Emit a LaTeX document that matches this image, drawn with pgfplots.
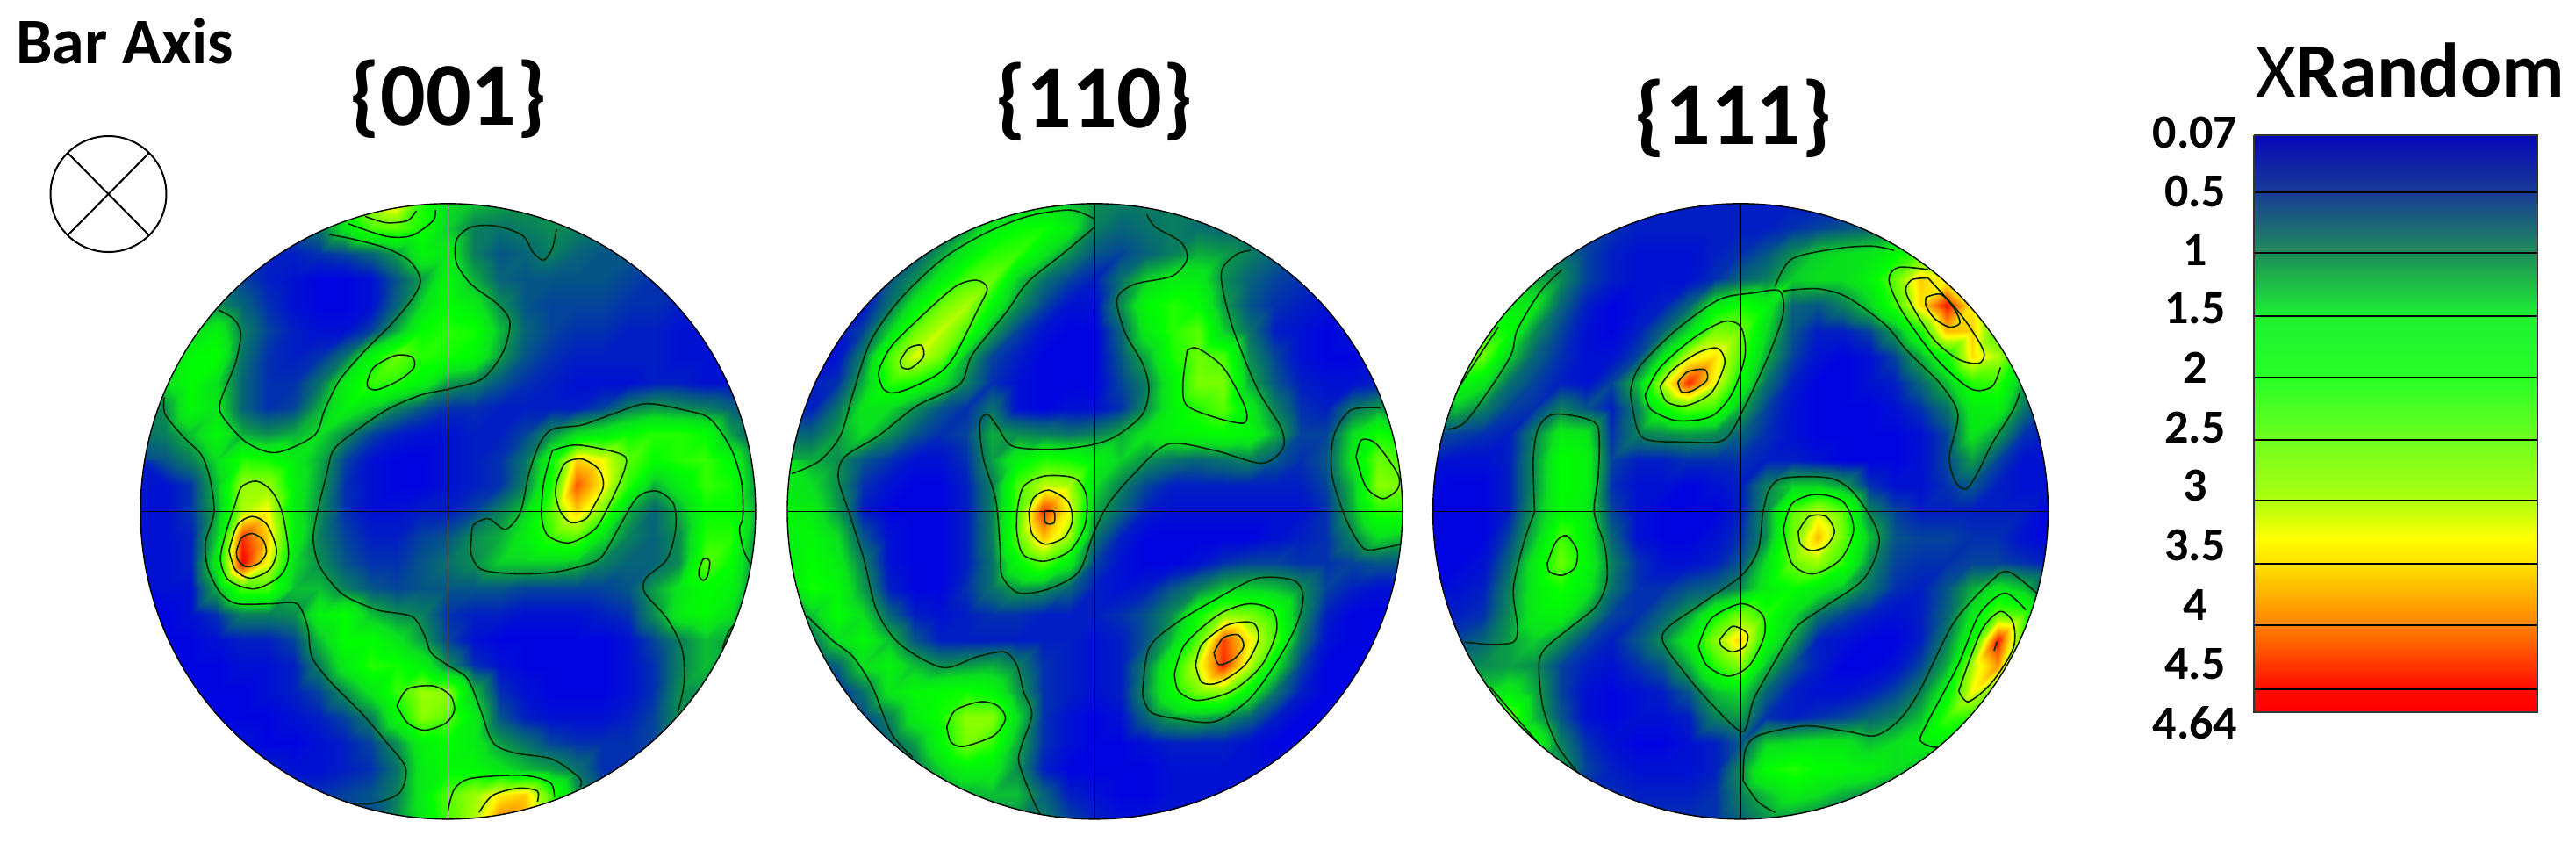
\documentclass[border=0pt]{standalone}
\usepackage{pgfplots}
\pgfplotsset{compat=1.18}
\usepackage{fontspec}
\setmainfont{Carlito}
\pgfplotsset{
 colormap={pf}{rgb255(7pt)=(0,0,230); rgb255(30pt)=(0,30,195); rgb255(60pt)=(5,85,135); rgb255(100pt)=(10,140,80); rgb255(150pt)=(10,225,30); rgb255(200pt)=(0,255,0); rgb255(250pt)=(90,255,0); rgb255(300pt)=(170,255,0); rgb255(330pt)=(255,255,0); rgb255(350pt)=(255,225,0); rgb255(400pt)=(255,130,0); rgb255(450pt)=(255,20,0); rgb255(464pt)=(255,0,0)},
 colormap={pb}{rgb255(7pt)=(8,8,185); rgb255(50pt)=(25,60,150); rgb255(100pt)=(30,140,90); rgb255(150pt)=(30,240,50); rgb255(200pt)=(40,255,40); rgb255(250pt)=(110,255,30); rgb255(300pt)=(175,255,15); rgb255(330pt)=(255,255,0); rgb255(350pt)=(255,225,0); rgb255(400pt)=(255,130,0); rgb255(450pt)=(255,10,0); rgb255(464pt)=(255,0,0)},
 pf/.style={at={(#1,-105pt)},anchor=north west,scale only axis,width=380pt,height=375pt,xmin=0,xmax=1568,ymin=0,ymax=1547,y dir=reverse,hide axis,colormap name=pf,point meta min=0.07,point meta max=4.64},
 ct/.style={no marks,smooth,line width=0.8pt,color=black!85!green},
 ax/.style={no marks,line width=0.7pt,color=black},
 table/gt/.style={row sep=\\,header=false,meta index=0,x expr={#1+(mod(\coordindex,25)-12)*60.5},y expr={768+(floor(\coordindex/25)-12)*60.5}},
 fld/.style={surf,shader=interp,mesh/cols=25,point meta=explicit}
}
\begin{document}
\begin{tikzpicture}
\path[use as bounding box] (0,0) rectangle (1467.5pt,-479.5pt);
% {001}
\begin{axis}[pf=65pt]
\addplot[fld] table[gt=785]{
.5\\.5\\.5\\.5\\.5\\.5\\.6\\.9\\1.5\\3.0\\3.5\\2.2\\1.5\\1.3\\1.2\\1.1\\1.1\\1.0\\.9\\.8\\.7\\.6\\.5\\.5\\.5\\
.4\\.4\\.4\\.4\\.4\\.4\\.5\\.8\\1.6\\2.4\\2.5\\2.1\\1.4\\.9\\.8\\.9\\1.0\\.9\\.8\\.7\\.6\\.5\\.4\\.4\\.4\\
.3\\.3\\.3\\.3\\.3\\.3\\.3\\.4\\.5\\.7\\1.1\\1.8\\1.7\\.9\\.6\\.7\\.9\\.7\\.6\\.6\\.5\\.4\\.4\\.3\\.3\\
.4\\.4\\.4\\.5\\.5\\.3\\.2\\.1\\.1\\.2\\.6\\1.1\\1.9\\1.2\\.7\\.6\\.6\\.6\\.6\\.5\\.4\\.4\\.3\\.3\\.3\\
1.0\\1.0\\1.0\\1.0\\.7\\.4\\.2\\.1\\.1\\.2\\.7\\1.5\\2.0\\1.7\\1.0\\.6\\.5\\.5\\.5\\.4\\.4\\.3\\.3\\.3\\.3\\
1.4\\1.4\\1.4\\1.8\\.9\\.5\\.3\\.2\\.2\\.5\\1.2\\2.0\\2.2\\2.1\\1.3\\.7\\.5\\.4\\.4\\.3\\.3\\.2\\.2\\.2\\.2\\
1.5\\1.5\\1.9\\2.0\\.8\\.4\\.3\\.4\\.8\\1.9\\2.6\\2.2\\2.1\\1.9\\1.1\\.6\\.4\\.3\\.3\\.3\\.3\\.2\\.2\\.2\\.2\\
1.2\\1.5\\2.0\\1.5\\.7\\.4\\.4\\.8\\1.7\\2.3\\2.2\\1.8\\1.1\\.9\\.6\\.4\\.3\\.2\\.2\\.2\\.3\\.3\\.2\\.2\\.2\\
.9\\1.0\\1.9\\1.6\\.7\\.4\\.5\\1.2\\1.8\\1.4\\.9\\.6\\.4\\.4\\.3\\.3\\.3\\.3\\.5\\.9\\1.1\\1.0\\.9\\.7\\.5\\
.8\\.9\\1.3\\1.9\\1.2\\1.0\\1.2\\1.5\\1.0\\.5\\.3\\.2\\.2\\.3\\.3\\.5\\1.0\\1.5\\1.7\\2.0\\2.2\\2.2\\2.0\\1.1\\.5\\
.5\\.6\\.9\\1.5\\2.2\\2.1\\1.7\\1.2\\.5\\.2\\.1\\.1\\.2\\.3\\.4\\.8\\1.9\\3.6\\3.3\\2.5\\2.0\\2.2\\2.3\\1.9\\.9\\
.3\\.2\\.4\\1.3\\2.9\\2.9\\1.8\\1.1\\.4\\.2\\.1\\.1\\.2\\.3\\.4\\.9\\2.1\\4.2\\3.4\\2.2\\1.2\\1.7\\2.3\\2.1\\1.0\\
.2\\.2\\.4\\1.2\\3.0\\3.3\\1.7\\1.0\\.4\\.2\\.2\\.3\\.3\\.5\\.9\\1.4\\2.5\\3.6\\2.7\\1.2\\.7\\1.2\\2.0\\2.0\\1.2\\
.2\\.2\\.3\\1.4\\4.4\\3.6\\1.8\\.9\\.5\\.3\\.3\\.5\\.6\\1.0\\1.2\\1.7\\2.3\\2.5\\1.5\\.9\\.7\\1.0\\2.2\\2.2\\1.0\\
.2\\.2\\.3\\1.7\\4.6\\3.3\\1.5\\1.0\\.6\\.4\\.4\\.6\\.8\\1.0\\1.4\\1.4\\1.4\\1.3\\.9\\.7\\.7\\1.0\\2.5\\2.0\\.9\\
.2\\.2\\.2\\1.2\\2.4\\2.4\\1.3\\1.3\\.9\\.6\\.5\\.6\\.6\\.6\\.6\\.5\\.5\\.5\\.5\\.6\\1.1\\1.6\\2.0\\1.8\\.8\\
.1\\.1\\.2\\.4\\.9\\.9\\1.0\\1.8\\2.0\\1.3\\1.0\\.9\\.4\\.3\\.3\\.2\\.2\\.2\\.3\\.4\\1.0\\1.7\\1.9\\1.5\\.5\\
.1\\.1\\.1\\.2\\.3\\.3\\.5\\1.3\\2.0\\2.0\\1.6\\1.1\\.5\\.2\\.1\\.1\\.1\\.1\\.1\\.2\\.5\\.9\\1.3\\1.1\\.3\\
.1\\.1\\.1\\.1\\.2\\.2\\.3\\.9\\1.7\\2.2\\2.1\\1.8\\1.0\\.4\\.2\\.1\\.1\\.1\\.1\\.2\\.4\\.9\\1.3\\.8\\.3\\
.1\\.1\\.1\\.1\\.1\\.2\\.3\\.5\\1.0\\1.6\\2.3\\2.9\\2.8\\1.3\\.4\\.2\\.1\\.1\\.1\\.2\\.4\\1.0\\1.0\\.4\\.3\\
.1\\.1\\.1\\.1\\.1\\.1\\.2\\.3\\.5\\.9\\1.9\\2.8\\2.5\\1.7\\.6\\.3\\.2\\.2\\.2\\.3\\.5\\1.0\\.6\\.3\\.3\\
.2\\.2\\.2\\.2\\.2\\.1\\.1\\.2\\.3\\.5\\1.0\\1.8\\2.0\\1.7\\1.1\\.8\\.5\\.4\\.4\\.4\\.5\\.6\\.5\\.3\\.3\\
.3\\.3\\.3\\.3\\.3\\.3\\.2\\.2\\.3\\.4\\.8\\1.7\\1.9\\1.9\\1.6\\1.3\\1.1\\.8\\.4\\.4\\.4\\.4\\.4\\.4\\.4\\
.4\\.4\\.4\\.4\\.4\\.4\\.4\\.4\\.5\\.6\\.9\\1.7\\2.5\\2.9\\3.4\\3.6\\2.4\\1.1\\.5\\.4\\.4\\.4\\.4\\.4\\.4\\
.5\\.5\\.5\\.5\\.5\\.5\\.5\\.5\\.5\\.5\\1.0\\1.6\\2.4\\3\\4\\3.8\\2\\1\\.5\\.5\\.5\\.5\\.5\\.5\\.5\\
};
\addplot[ct] coordinates {(505,118)(560,128)(640,150)(695,180)(720,225)(700,270)(650,330)(590,390)(530,460)(495,530)(470,590)(380,630)(310,605)(255,545)(250,510)(285,420)(298,350)(280,315)(245,295)};
\addplot[ct] coordinates {(550,92)(640,122)(700,120)(750,85)(755,60)};
\addplot[ct] coordinates {(590,75)(640,90)(690,85)(710,62)};
\addplot[ct] coordinates {(1040,105)(1030,150)(1010,178)(985,160)(960,120)(900,98)(840,100)(805,130)(805,185)(840,235)(900,280)(930,320)(920,380)(895,425)(860,460)(790,480)(720,495)(640,530)(560,585)(515,625)(500,680)(480,760)(468,830)(480,890)(510,935)(545,968)(620,1000)(700,1015)(730,1060)(745,1100)(785,1130)(830,1160)(860,1230)(890,1310)(940,1335)(1030,1350)(1095,1395)(1095,1415)};
\addplot[ct] coordinates {(118,500)(120,540)(165,595)(205,635)(225,690)(235,770)(215,840)(220,900)(250,960)(290,985)(370,985)(430,985)(455,1040)(465,1110)(510,1170)(580,1240)(640,1310)(685,1370)(670,1430)(600,1455)(520,1450)};
\addplot[ct] coordinates {(840,830)(845,800)(880,785)(920,810)(955,770)(975,680)(1000,610)(1030,575)(1100,565)(1170,540)(1250,515)(1340,530)(1400,550)(1450,620)(1475,700)(1478,780)(1470,810)(1480,860)(1495,890)};
\addplot[ct] coordinates {(840,830)(840,870)(865,905)(950,915)(1040,910)(1120,890)(1150,870)(1190,800)(1230,735)(1275,720)(1315,750)(1320,810)(1300,880)(1250,925)(1248,960)(1300,1020)(1335,1090)(1340,1170)(1325,1240)};
\addplot[ct] coordinates {(1430,1090)(1445,1050)(1470,1020)};
\addplot[ct] coordinates {(1030,625)(1090,612)(1195,635)(1200,670)(1165,750)(1130,810)(1070,842)(1020,825)(1005,780)(1010,700)(1030,625)};
\addplot[ct] coordinates {(1040,700)(1060,655)(1100,645)(1140,670)(1150,710)(1125,760)(1110,785)(1075,795)(1050,770)(1038,730)(1040,700)};
\addplot[ct] coordinates {(285,750)(300,710)(335,697)(370,720)(395,770)(410,870)(390,920)(330,950)(270,930)(250,880)(265,810)(285,750)};
\addplot[ct] coordinates {(270,860)(290,800)(325,780)(360,800)(382,860)(365,905)(320,925)(285,905)(270,860)};
\addplot[ct] coordinates {(288,860)(300,830)(325,820)(350,835)(358,865)(340,890)(310,898)(290,880)(288,860)};
\addplot[ct] coordinates {(595,465)(610,430)(660,402)(700,405)(705,430)(670,460)(620,482)(598,478)(595,465)};
\addplot[ct] coordinates {(665,1225)(690,1185)(750,1178)(790,1200)(800,1235)(780,1265)(730,1282)(690,1265)(665,1225)};
\addplot[ct] coordinates {(1375,905)(1385,880)(1400,885)(1395,920)(1385,930)(1375,920)(1375,905)};
\addplot[ct] coordinates {(785,1470)(800,1420)(840,1395)(960,1388)(1025,1405)(1035,1440)};
\addplot[ct] coordinates {(858,1475)(890,1435)(950,1418)(995,1425)(995,1450)};
\fill[white,even odd rule] (axis cs:0,0) rectangle (axis cs:1568,1547) (axis cs:785,768) circle[radius=723];
\draw[black,line width=0.7pt] (axis cs:785,768) circle[radius=723];
\addplot[ax] coordinates {(62,768)(1508,768)};
\addplot[ax] coordinates {(785,45)(785,1491)};
\end{axis}
% {110}
\begin{axis}[pf=440pt]
\addplot[fld] table[gt=758]{
.6\\.6\\.6\\.6\\.6\\.7\\.7\\.8\\.9\\1.1\\1.3\\1.3\\1.0\\.9\\.9\\.9\\.8\\.7\\.6\\.6\\.6\\.6\\.6\\.6\\.6\\
.5\\.5\\.5\\.5\\.5\\.5\\.6\\1.1\\1.7\\2.0\\2.1\\1.7\\.9\\.7\\.8\\.9\\.8\\.7\\.7\\.6\\.5\\.5\\.5\\.5\\.5\\
.4\\.4\\.4\\.4\\.5\\.6\\1.1\\1.7\\2.2\\2.3\\1.6\\1.0\\.6\\.5\\.7\\.9\\1.2\\1.1\\.9\\.7\\.5\\.5\\.4\\.4\\.4\\
.3\\.3\\.3\\.3\\.6\\1.0\\1.7\\2.4\\2.6\\1.4\\.8\\.5\\.3\\.8\\1.4\\1.7\\1.7\\1.0\\.7\\.5\\.4\\.3\\.3\\.3\\.3\\
.2\\.2\\.2\\.2\\.8\\1.7\\2.6\\3.0\\1.9\\1.0\\.5\\.2\\.2\\1.0\\1.9\\2.2\\2.0\\1.1\\.6\\.4\\.3\\.2\\.2\\.2\\.2\\
.2\\.2\\.2\\.5\\1.4\\2.6\\3.1\\2.4\\1.1\\.5\\.2\\.1\\.1\\.7\\1.7\\2.2\\2.5\\1.4\\.8\\.3\\.2\\.1\\.2\\.2\\.2\\
.2\\.2\\.2\\.9\\2.4\\3.2\\2.7\\1.2\\.5\\.3\\.1\\.1\\.1\\.6\\1.2\\2.1\\2.6\\2.4\\1.0\\.5\\.2\\.1\\.1\\.2\\.2\\
.3\\.3\\.4\\1.2\\2.2\\2.1\\1.6\\.9\\.4\\.2\\.1\\.1\\.1\\.5\\.9\\1.8\\2.7\\2.7\\1.2\\.6\\.3\\.2\\.2\\.3\\.3\\
.3\\.3\\.8\\1.6\\1.5\\1.0\\.6\\.4\\.8\\.2\\.1\\.2\\.2\\.4\\1.0\\1.8\\2.2\\2.5\\1.7\\.9\\.4\\.3\\.8\\1.1\\.6\\
.7\\.7\\1.1\\1.5\\1.0\\.6\\.4\\.5\\1.2\\1.0\\.9\\.8\\.9\\1.2\\1.6\\1.8\\1.9\\2.0\\1.9\\1.2\\.5\\.5\\1.5\\2.1\\1.9\\
1.2\\1.2\\1.0\\.6\\.4\\.2\\.2\\.4\\1.1\\1.8\\2.2\\2.1\\1.8\\1.4\\1.0\\.8\\.7\\.8\\.9\\.6\\.4\\.6\\1.6\\2.6\\2.4\\
1.6\\1.5\\1.0\\.4\\.2\\.1\\.1\\.3\\.9\\2.4\\3.1\\3.0\\1.5\\.9\\.5\\.3\\.3\\.3\\.3\\.3\\.3\\.5\\1.3\\2.8\\2.7\\
1.8\\1.7\\1.1\\.3\\.1\\.1\\.1\\.3\\.9\\2.4\\4.4\\3.3\\1.2\\.7\\.3\\.2\\.2\\.2\\.2\\.2\\.2\\.4\\1.2\\2.2\\2.2\\
1.8\\1.9\\1.5\\.6\\.2\\.1\\.1\\.3\\.9\\2.5\\3.7\\2.9\\.8\\.3\\.1\\.1\\.1\\.1\\.1\\.2\\.3\\.4\\.9\\1.5\\1.3\\
1.7\\2.0\\1.7\\.9\\.2\\.1\\.1\\.3\\.8\\1.9\\2.5\\1.7\\.5\\.2\\.1\\.1\\.2\\.4\\.5\\.5\\.4\\.4\\.5\\.6\\.6\\
1.6\\2.1\\1.9\\1.1\\.3\\.1\\.1\\.4\\.8\\1.1\\1.0\\.7\\.3\\.2\\.3\\.6\\.9\\1.3\\1.4\\1.3\\1.0\\.5\\.3\\.2\\.2\\
1.3\\1.3\\2.0\\1.5\\.7\\.3\\.2\\.3\\.4\\.4\\.3\\.3\\.3\\.4\\.6\\1.0\\2.0\\2.8\\2.7\\2.2\\1.0\\.3\\.1\\.1\\.1\\
.6\\.8\\1.5\\1.9\\1.3\\.6\\.3\\.3\\.3\\.3\\.3\\.3\\.2\\.3\\.6\\1.3\\2.5\\4.3\\3.4\\2.4\\.8\\.2\\.1\\.1\\.1\\
.4\\.4\\.7\\1.5\\1.8\\1.3\\1.0\\1.1\\1.2\\.9\\.4\\.3\\.2\\.3\\.9\\2.0\\3.2\\4.4\\3.1\\1.6\\.5\\.1\\.1\\.1\\.1\\
.3\\.3\\.3\\.8\\1.6\\1.9\\2.0\\2.1\\1.9\\1.1\\.4\\.3\\.2\\.3\\1.0\\2.0\\2.7\\2.8\\1.8\\.8\\.3\\.1\\.1\\.1\\.1\\
.3\\.3\\.3\\.5\\.9\\1.7\\2.1\\2.8\\2.8\\1.5\\.4\\.2\\.1\\.2\\.7\\1.1\\1.2\\1.0\\.7\\.3\\.1\\.1\\.1\\.1\\.1\\
.4\\.4\\.4\\.4\\.7\\1.1\\1.9\\2.7\\2.3\\1.2\\.4\\.2\\.1\\.1\\.2\\.3\\.3\\.3\\.2\\.1\\.1\\.1\\.1\\.1\\.1\\
.5\\.5\\.5\\.5\\.5\\.8\\1.4\\1.8\\1.7\\1.0\\.3\\.1\\.1\\.1\\.1\\.2\\.2\\.2\\.2\\.2\\.2\\.2\\.2\\.2\\.2\\
.6\\.6\\.6\\.6\\.6\\.6\\.9\\1.2\\1.3\\1.3\\.7\\.3\\.2\\.1\\.1\\.2\\.2\\.2\\.2\\.2\\.2\\.2\\.2\\.2\\.2\\
.7\\.7\\.7\\.7\\.7\\.7\\.7\\.7\\.9\\1\\.9\\.5\\.3\\.2\\.2\\.2\\.2\\.2\\.2\\.2\\.2\\.2\\.2\\.2\\.2\\
};
\addplot[ct] coordinates {(755,80)(700,60)(600,75)(500,115)(400,175)(300,270)(230,370)(190,490)(160,590)(110,650)(45,680)};
\addplot[ct] coordinates {(758,100)(680,165)(600,230)(550,300)(470,400)(440,470)(340,520)(250,590)(170,640)(155,690)(180,770)(215,880)(245,1000)(300,1080)(400,1135)(480,1110)(545,1098)(575,1130)(590,1190)(610,1245)(585,1320)(580,1360)(610,1440)(630,1480)};
\addplot[ct] coordinates {(260,480)(250,440)(280,380)(350,310)(430,240)(480,225)(505,245)(480,300)(430,400)(390,445)(320,480)(280,490)(260,480)};
\addplot[ct] coordinates {(300,415)(320,385)(350,378)(355,405)(325,432)(305,430)(300,415)};
\addplot[ct] coordinates {(880,70)(900,100)(960,135)(975,175)(940,215)(850,235)(810,270)(830,350)(870,420)(885,480)(870,540)(810,590)(750,612)(660,622)(565,615)(530,570)(505,540)(488,560)(495,640)(525,740)(535,850)(540,920)(580,960)(650,950)(720,910)(755,820)(790,750)(850,680)(930,610)(1040,625)(1150,655)(1200,620)(1195,570)(1140,480)(1080,330)(1055,210)(1090,165)(1125,155)};
\addplot[ct] coordinates {(975,390)(1000,385)(1060,430)(1110,520)(1110,560)(1050,550)(975,520)(965,470)(975,390)};
\addplot[ct] coordinates {(575,770)(590,710)(640,685)(710,690)(738,730)(735,800)(700,860)(640,885)(590,870)(575,820)(575,770)};
\addplot[ct] coordinates {(603,770)(615,735)(650,718)(695,745)(705,790)(685,830)(640,845)(610,820)(603,770)};
\addplot[ct] coordinates {(640,768)(662,768)(662,795)(642,795)(640,768)};
\addplot[ct] coordinates {(1430,525)(1360,530)(1320,590)(1315,680)(1350,790)(1390,855)(1430,855)(1478,845)};
\addplot[ct] coordinates {(1372,640)(1385,600)(1420,610)(1470,680)(1470,715)(1435,738)(1395,710)(1372,640)};
\addplot[ct] coordinates {(80,1012)(140,1070)(190,1110)(235,1180)(280,1290)(330,1345)};
\addplot[ct] coordinates {(410,1275)(430,1235)(490,1215)(530,1225)(548,1255)(520,1295)(450,1320)(420,1310)(410,1275)};
\addplot[ct] coordinates {(870,1200)(885,1090)(950,1030)(1050,970)(1140,925)(1225,930)(1248,970)(1230,1040)(1180,1130)(1120,1210)(1040,1262)(950,1255)(890,1240)(870,1200)};
\addplot[ct] coordinates {(945,1150)(970,1080)(1050,1010)(1120,985)(1175,1000)(1185,1050)(1150,1130)(1080,1190)(1000,1212)(955,1190)(945,1150)};
\addplot[ct] coordinates {(995,1130)(1010,1080)(1070,1035)(1130,1030)(1142,1070)(1110,1130)(1050,1170)(1010,1170)(995,1130)};
\addplot[ct] coordinates {(1038,1100)(1060,1065)(1095,1058)(1108,1085)(1085,1115)(1050,1128)(1038,1100)};
\fill[white,even odd rule] (axis cs:0,0) rectangle (axis cs:1568,1547) (axis cs:758,768) circle[radius=723];
\draw[black,line width=0.7pt] (axis cs:758,768) circle[radius=723];
\addplot[ax] coordinates {(35,768)(1481,768)};
\addplot[ax] coordinates {(758,45)(758,1491)};
\end{axis}
% {111}
\begin{axis}[pf=810pt]
\addplot[fld] table[gt=749]{
.3\\.3\\.3\\.3\\.3\\.3\\.3\\.3\\.3\\.3\\.3\\.3\\.3\\.3\\.3\\.3\\.3\\.3\\.4\\.4\\.4\\.4\\.4\\.4\\.4\\
.3\\.3\\.3\\.3\\.3\\.3\\.4\\.4\\.3\\.3\\.3\\.3\\.3\\.3\\.4\\.5\\.6\\.7\\.9\\1.0\\1.0\\.9\\.9\\.9\\.9\\
.5\\.5\\.5\\.6\\.7\\.8\\.5\\.3\\.2\\.2\\.2\\.3\\.4\\.6\\1.0\\1.4\\1.5\\1.6\\1.9\\2.4\\2.0\\1.5\\1.2\\1.0\\1.0\\
1.0\\1.0\\1.0\\1.0\\1.2\\1.0\\.5\\.3\\.2\\.2\\.2\\.4\\.7\\.9\\1.4\\1.5\\1.5\\1.8\\2.6\\3.6\\3.3\\2.0\\1.5\\1.2\\1.2\\
1.5\\1.5\\1.5\\1.7\\1.6\\.7\\.3\\.1\\.2\\.3\\.7\\1.7\\2.1\\1.8\\.7\\.6\\.9\\1.4\\2.3\\3.5\\4.5\\3.4\\2.2\\1.5\\1.5\\
2.3\\2.3\\2.3\\2.0\\1.0\\.5\\.2\\.1\\.3\\.7\\1.5\\2.7\\2.6\\1.5\\.6\\.3\\.3\\.5\\1.1\\2.1\\3.7\\3.6\\2.3\\1.5\\1.5\\
2.2\\2.2\\2.6\\1.4\\.7\\.4\\.2\\.2\\.5\\1.6\\3.2\\3.5\\2.4\\1.2\\.5\\.2\\.1\\.2\\.5\\1.2\\2.0\\3.5\\3.0\\1.7\\1.5\\
1.8\\2.0\\1.6\\.8\\.5\\.3\\.2\\.5\\1.3\\3.1\\4.4\\3.3\\1.9\\.8\\.3\\.1\\.1\\.2\\.3\\.7\\1.3\\2.2\\2.3\\1.1\\.8\\
1.3\\1.3\\.9\\.5\\.4\\.9\\.6\\.3\\.9\\2.0\\2.5\\2.3\\1.2\\.5\\.2\\.1\\.1\\.1\\.2\\.4\\.8\\1.7\\1.8\\.8\\.4\\
.5\\.5\\.4\\.3\\.9\\1.7\\1.6\\.4\\.9\\1.0\\1.1\\1.0\\.7\\.4\\.2\\.1\\.1\\.1\\.1\\.2\\.5\\1.6\\1.1\\.4\\.3\\
.3\\.2\\.2\\.3\\1.0\\2.0\\1.8\\.5\\.3\\.3\\.4\\.4\\.4\\.3\\.3\\.2\\.1\\.1\\.1\\.2\\.5\\1.1\\.5\\.2\\.2\\
.2\\.1\\.1\\.3\\1.0\\2.0\\1.8\\.4\\.2\\.2\\.1\\.2\\.3\\.9\\1.4\\1.4\\1.1\\.4\\.2\\.2\\.4\\.6\\.3\\.2\\.2\\
.1\\.1\\.1\\.3\\1.1\\1.9\\1.7\\.5\\.2\\.1\\.1\\.1\\.3\\1.0\\2.5\\3.1\\2.5\\.9\\.5\\.3\\.3\\.3\\.3\\.3\\.1\\
.1\\.1\\.1\\.5\\1.3\\2.4\\1.8\\.7\\.2\\.1\\.1\\.2\\.4\\1.0\\2.6\\3.7\\2.6\\1.3\\.6\\.5\\.5\\.4\\.4\\.2\\.1\\
.1\\.1\\.2\\.7\\1.7\\2.6\\1.9\\.9\\.4\\.2\\.2\\.3\\.6\\1.5\\2.6\\2.9\\2.2\\1.0\\.5\\.4\\.4\\.5\\.5\\.4\\.3\\
.1\\.2\\.3\\.9\\1.7\\2.1\\1.7\\.8\\.4\\.4\\.6\\.7\\1.0\\1.7\\2.0\\1.7\\1.3\\.8\\.4\\.3\\.6\\1.2\\1.6\\1.3\\.5\\
.2\\.3\\.4\\1.0\\1.7\\1.8\\1.1\\.5\\.4\\.7\\1.1\\2.0\\2.7\\2.2\\1.5\\.8\\.5\\.3\\.2\\.3\\.7\\1.6\\2.6\\2.4\\.9\\
.4\\.5\\.7\\1.1\\1.4\\1.0\\.5\\.3\\.6\\1.0\\1.7\\2.8\\3.6\\2.0\\1.1\\.3\\.2\\.1\\.1\\.3\\.9\\2.0\\4.5\\2.3\\1.0\\
.9\\.9\\1.0\\1.1\\1.0\\.5\\.3\\.2\\.4\\.6\\1.2\\2.2\\2.8\\1.3\\.6\\.3\\.1\\.1\\.2\\.5\\1.2\\3.0\\3.9\\1.8\\1.0\\
1.4\\1.4\\1.4\\1.7\\1.2\\.5\\.2\\.1\\.2\\.3\\.6\\1.3\\1.5\\.7\\.3\\.2\\.2\\.3\\.5\\.9\\1.8\\3.3\\2.5\\1.2\\1.0\\
2\\2\\2\\2.6\\1.3\\.6\\.2\\.1\\.2\\.2\\.3\\.9\\1.1\\.4\\.3\\.4\\.5\\.7\\.9\\1.3\\2.3\\2.2\\1.5\\1\\1\\
2\\2\\2\\2.2\\2.0\\.9\\.4\\.2\\.1\\.1\\.2\\.3\\.6\\1.4\\1.5\\1.6\\1.6\\1.3\\1.5\\1.7\\1.8\\1.2\\1\\1\\1\\
1.5\\1.5\\1.5\\1.5\\1.5\\1.1\\.5\\.3\\.2\\.2\\.2\\.3\\1.0\\2.0\\2.2\\2.0\\1.9\\1.8\\1.5\\1.2\\1\\1\\1\\1\\1\\
.5\\.5\\.5\\.5\\.5\\.5\\.4\\.4\\.3\\.3\\.3\\.4\\.9\\1.3\\1.7\\1.5\\1.2\\1.0\\.8\\.8\\.8\\.8\\.8\\.8\\.8\\
.4\\.4\\.4\\.4\\.4\\.4\\.4\\.4\\.4\\.4\\.4\\.4\\.7\\1\\1\\.8\\.6\\.6\\.6\\.6\\.6\\.6\\.6\\.6\\.6\\
};
\addplot[ct] coordinates {(60,575)(100,560)(160,480)(210,400)(225,340)(280,250)(330,200)};
\addplot[ct] coordinates {(85,480)(130,410)(180,335)};
\addplot[ct] coordinates {(490,490)(510,430)(600,340)(700,270)(780,255)(840,250)(850,300)(820,390)(760,520)(710,600)(620,605)(530,600)(505,570)(490,490)};
\addplot[ct] coordinates {(525,495)(560,430)(640,360)(710,322)(750,335)(760,400)(730,490)(680,545)(600,555)(540,530)(525,495)};
\addplot[ct] coordinates {(560,475)(590,435)(650,395)(695,385)(712,420)(680,490)(620,520)(575,510)(560,475)};
\addplot[ct] coordinates {(602,465)(625,440)(665,435)(670,460)(635,485)(610,487)(602,465)};
\addplot[ct] coordinates {(830,240)(870,175)(980,150)(1060,145)(1110,155)};
\addplot[ct] coordinates {(850,250)(930,245)(1000,265)(1090,330)(1140,390)(1220,470)(1260,540)(1240,640)(1255,700)(1280,715)(1305,680)(1340,610)(1390,530)(1405,490)};
\addplot[ct] coordinates {(1190,200)(1120,195)(1098,225)(1130,300)(1210,410)(1290,480)(1340,475)(1360,430)};
\addplot[ct] coordinates {(1190,220)(1150,225)(1140,260)(1200,360)(1260,410)(1310,420)(1320,390)(1270,310)(1190,220)};
\addplot[ct] coordinates {(1185,265)(1220,258)(1250,290)(1265,325)(1240,335)(1205,315)(1185,285)(1185,265)};
\addplot[ct] coordinates {(265,770)(262,640)(275,570)(310,540)(385,550)(415,575)(415,680)(405,770)(430,850)(435,930)(410,990)(350,1040)(290,1090)(275,1130)(285,1230)(320,1320)(370,1385)};
\addplot[ct] coordinates {(265,770)(240,840)(215,950)(225,1040)(215,1075)(160,1080)(100,1075)};
\addplot[ct] coordinates {(295,890)(315,840)(340,825)(365,860)(360,900)(330,918)(300,910)(295,890)};
\addplot[ct] coordinates {(160,1180)(220,1250)(280,1320)};
\addplot[ct] coordinates {(800,780)(815,720)(850,690)(960,690)(1020,730)(1075,830)(1040,925)(950,990)(880,1040)(830,1120)(780,1210)(755,1285)(690,1230)(620,1150)(565,1060)(650,990)(750,920)(790,860)(800,780)};
\addplot[ct] coordinates {(850,810)(870,750)(925,728)(990,745)(1015,810)(985,880)(920,915)(870,890)(850,810)};
\addplot[ct] coordinates {(885,815)(910,780)(950,780)(970,815)(950,850)(915,860)(890,845)(885,815)};
\addplot[ct] coordinates {(650,1085)(680,1020)(750,985)(800,1010)(805,1060)(770,1130)(720,1155)(670,1130)(650,1085)};
\addplot[ct] coordinates {(700,1070)(730,1038)(765,1055)(760,1085)(730,1098)(705,1085)(700,1070)};
\addplot[ct] coordinates {(755,1400)(760,1330)(790,1295)(900,1272)(1000,1285)(1065,1295)(1120,1260)(1170,1190)(1250,1030)(1340,930)(1380,910)(1445,960)};
\addplot[ct] coordinates {(755,1400)(790,1450)(830,1475)};
\addplot[ct] coordinates {(1280,1260)(1220,1320)(1175,1310)(1180,1280)(1260,1130)(1310,1010)(1370,960)(1420,1000)};
\addplot[ct] coordinates {(1262,1190)(1290,1110)(1320,1040)(1360,1003)(1390,1030)(1390,1090)(1340,1170)(1285,1215)(1262,1190)};
\addplot[ct] coordinates {(1345,1095)(1352,1075)};
\fill[white,even odd rule] (axis cs:0,0) rectangle (axis cs:1568,1547) (axis cs:749,768) circle[radius=723];
\draw[black,line width=0.7pt] (axis cs:749,768) circle[radius=723];
\addplot[ax] coordinates {(26,768)(1472,768)};
\addplot[ax] coordinates {(749,45)(749,1491)};
\end{axis}
% overlay in reference pixels
\begin{axis}[at={(0pt,0pt)},anchor=north west,scale only axis,width=1467.5pt,height=479.5pt,xmin=0,xmax=2935,ymin=0,ymax=959,y dir=reverse,hide axis,colormap name=pb,point meta min=0.07,point meta max=4.64,clip=false]
\addplot[surf,shader=interp,mesh/cols=2,point meta=explicit] coordinates {
(2568,154)[.07](2891,154)[.07]
(2568,219)[.5](2891,219)[.5]
(2568,288)[1](2891,288)[1]
(2568,360)[1.5](2891,360)[1.5]
(2568,430)[2](2891,430)[2]
(2568,501)[2.5](2891,501)[2.5]
(2568,570)[3](2891,570)[3]
(2568,642)[3.5](2891,642)[3.5]
(2568,712)[4](2891,712)[4]
(2568,785)[4.5](2891,785)[4.5]
(2568,811)[4.64](2891,811)[4.64]
};
\addplot[ax,line width=0.6pt] coordinates {(2568,219)(2891,219)};
\addplot[ax,line width=0.6pt] coordinates {(2568,288)(2891,288)};
\addplot[ax,line width=0.6pt] coordinates {(2568,360)(2891,360)};
\addplot[ax,line width=0.6pt] coordinates {(2568,430)(2891,430)};
\addplot[ax,line width=0.6pt] coordinates {(2568,501)(2891,501)};
\addplot[ax,line width=0.6pt] coordinates {(2568,570)(2891,570)};
\addplot[ax,line width=0.6pt] coordinates {(2568,642)(2891,642)};
\addplot[ax,line width=0.6pt] coordinates {(2568,712)(2891,712)};
\addplot[ax,line width=0.6pt] coordinates {(2568,785)(2891,785)};
\addplot[ax,line width=0.9pt,color=black!80] coordinates {(2568,154)(2891,154)(2891,811)(2568,811)(2568,154)};
\draw[black,line width=1pt] (axis cs:123.5,221) circle[radius=66];
\addplot[ax,line width=1pt] coordinates {(77,174)(170,268)};
\addplot[ax,line width=1pt] coordinates {(170,174)(77,268)};
\node[font=\fontsize{37}{37}\selectfont\bfseries,anchor=center] at (axis cs:142,47) {Bar Axis};
\node[font=\fontsize{51}{51}\selectfont\bfseries,anchor=center] at (axis cs:511,113) {\{001\}};
\node[font=\fontsize{51}{51}\selectfont\bfseries,anchor=center] at (axis cs:1247,116) {\{110\}};
\node[font=\fontsize{51}{51}\selectfont\bfseries,anchor=center] at (axis cs:1975,135) {\{111\}};
\node[font=\fontsize{44}{44}\selectfont,anchor=center] at (axis cs:2746,80) {X\textbf{Random}};
\node[font=\fontsize{27}{27}\selectfont\bfseries] at (axis cs:2501,151) {0.07};
\node[font=\fontsize{27}{27}\selectfont\bfseries] at (axis cs:2501,218) {0.5};
\node[font=\fontsize{27}{27}\selectfont\bfseries] at (axis cs:2501,285) {1};
\node[font=\fontsize{27}{27}\selectfont\bfseries] at (axis cs:2501,351) {1.5};
\node[font=\fontsize{27}{27}\selectfont\bfseries] at (axis cs:2501,419) {2};
\node[font=\fontsize{27}{27}\selectfont\bfseries] at (axis cs:2501,487) {2.5};
\node[font=\fontsize{27}{27}\selectfont\bfseries] at (axis cs:2501,553) {3};
\node[font=\fontsize{27}{27}\selectfont\bfseries] at (axis cs:2501,621) {3.5};
\node[font=\fontsize{27}{27}\selectfont\bfseries] at (axis cs:2501,689) {4};
\node[font=\fontsize{27}{27}\selectfont\bfseries] at (axis cs:2501,756) {4.5};
\node[font=\fontsize{27}{27}\selectfont\bfseries] at (axis cs:2501,823) {4.64};
\end{axis}
\end{tikzpicture}
\end{document}
